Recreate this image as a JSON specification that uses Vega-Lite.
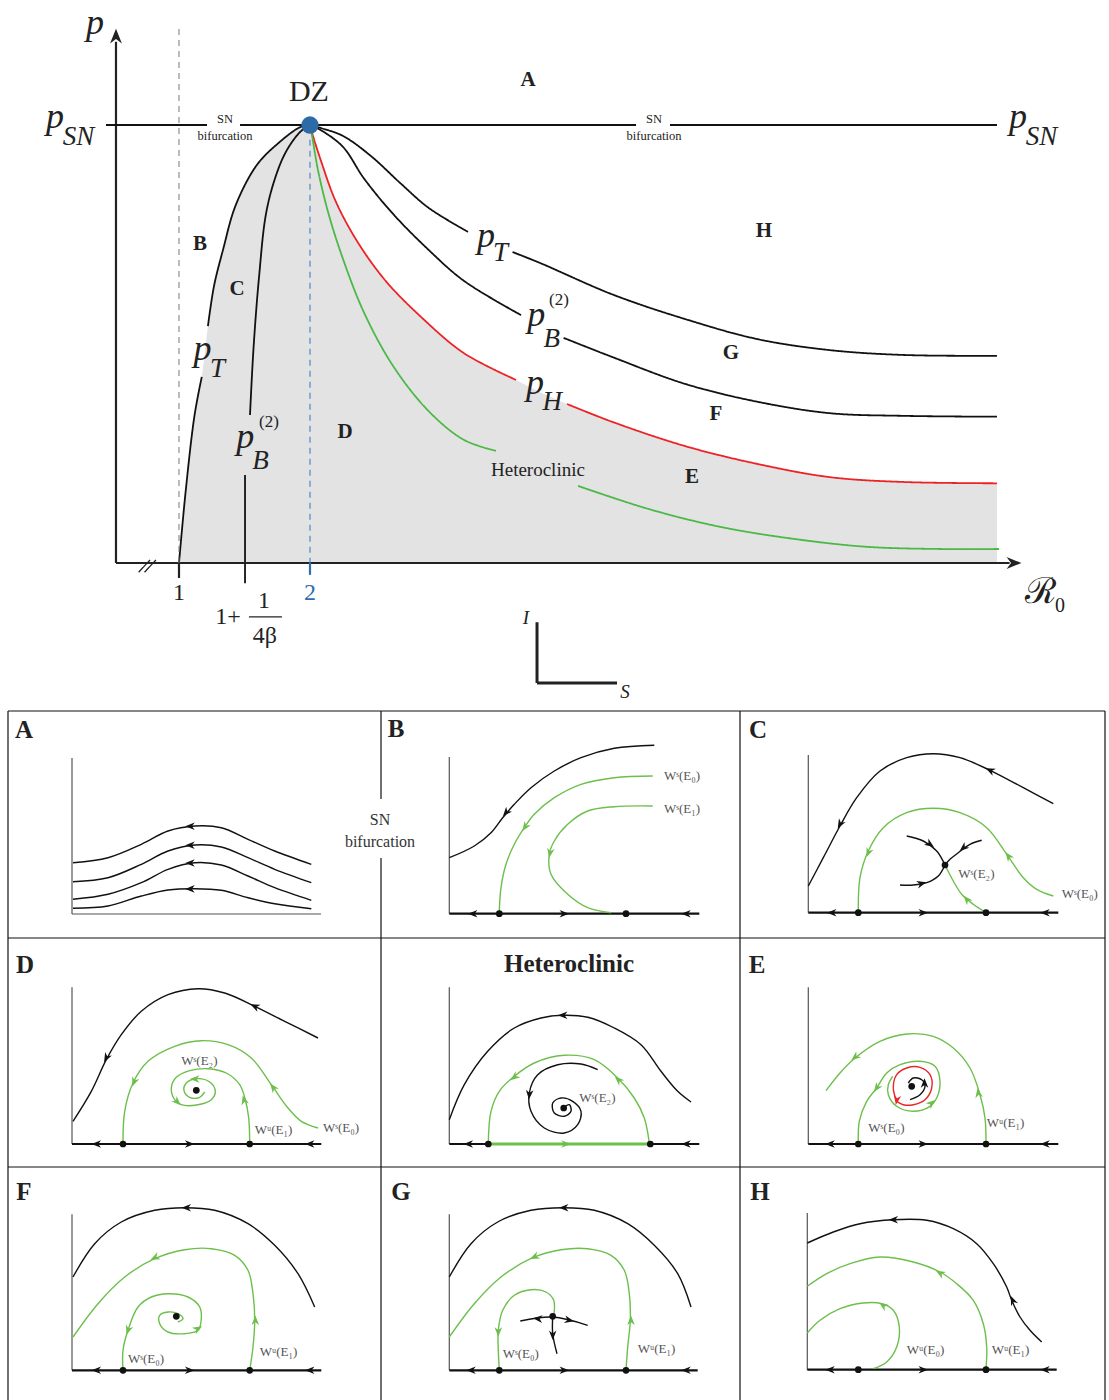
{
"$schema":"https://vega.github.io/schema/vega-lite/v6.json",
"padding":{"left":5,"top":0,"right":4,"bottom":0},
"background":"white",
"config":{"view":{"stroke":null},"font":"Liberation Serif"},
"spacing":0,
"bounds":"flush",
"resolve":{"scale":{"color":"independent","size":"independent","strokeWidth":"independent","strokeDash":"independent","angle":"independent"}},
"datasets":{
"tArea":[
{"part":"L","R0":1.0,"p":0},{"part":"L","R0":1.051,"p":0.164},{"part":"L","R0":1.119,"p":0.338},{"part":"L","R0":1.174,"p":0.425},{"part":"L","R0":1.221,"p":0.541},{"part":"L","R0":1.267,"p":0.632},{"part":"L","R0":1.336,"p":0.715},{"part":"L","R0":1.433,"p":0.817},{"part":"L","R0":1.595,"p":0.909},{"part":"L","R0":1.760,"p":0.959},{"part":"L","R0":1.924,"p":0.995},{"part":"L","R0":2.0,"p":1.0},
{"part":"R","R0":2.0,"p":1.0},{"part":"R","R0":2.019,"p":0.979},{"part":"R","R0":2.084,"p":0.918},{"part":"R","R0":2.196,"p":0.826},{"part":"R","R0":2.359,"p":0.735},{"part":"R","R0":2.578,"p":0.644},{"part":"R","R0":2.847,"p":0.562},{"part":"R","R0":3.176,"p":0.479},{"part":"R","R0":3.573,"p":0.418},{"part":"R","R0":3.756,"p":0.390},{"part":"R","R0":3.962,"p":0.363},{"part":"R","R0":4.310,"p":0.322},{"part":"R","R0":4.863,"p":0.267},{"part":"R","R0":5.418,"p":0.226},{"part":"R","R0":5.969,"p":0.196},{"part":"R","R0":6.527,"p":0.185},{"part":"R","R0":7.244,"p":0.182}
],
"tLines":[
{"kind":"pT","seg":"pTL1","R0":1.0,"p":0},{"kind":"pT","seg":"pTL1","R0":1.051,"p":0.164},{"kind":"pT","seg":"pTL1","R0":1.119,"p":0.338},{"kind":"pT","seg":"pTL1","R0":1.174,"p":0.425},
{"kind":"pT","seg":"pTL2","R0":1.221,"p":0.541},{"kind":"pT","seg":"pTL2","R0":1.267,"p":0.632},{"kind":"pT","seg":"pTL2","R0":1.336,"p":0.715},{"kind":"pT","seg":"pTL2","R0":1.433,"p":0.817},{"kind":"pT","seg":"pTL2","R0":1.595,"p":0.909},{"kind":"pT","seg":"pTL2","R0":1.760,"p":0.959},{"kind":"pT","seg":"pTL2","R0":1.924,"p":0.995},{"kind":"pT","seg":"pTL2","R0":2.0,"p":1.0},
{"kind":"pB2","seg":"pBL1","R0":1.504,"p":-0.046},{"kind":"pB2","seg":"pBL1","R0":1.504,"p":0.201},
{"kind":"pB2","seg":"pBL2","R0":1.542,"p":0.338},{"kind":"pB2","seg":"pBL2","R0":1.569,"p":0.491},{"kind":"pB2","seg":"pBL2","R0":1.611,"p":0.653},{"kind":"pB2","seg":"pBL2","R0":1.664,"p":0.797},{"kind":"pB2","seg":"pBL2","R0":1.733,"p":0.878},{"kind":"pB2","seg":"pBL2","R0":1.815,"p":0.938},{"kind":"pB2","seg":"pBL2","R0":1.924,"p":0.984},{"kind":"pB2","seg":"pBL2","R0":2.0,"p":1.0},
{"kind":"pT","seg":"pTR1","R0":2.0,"p":1.0},{"kind":"pT","seg":"pTR1","R0":2.084,"p":0.993},{"kind":"pT","seg":"pTR1","R0":2.252,"p":0.975},{"kind":"pT","seg":"pTR1","R0":2.466,"p":0.929},{"kind":"pT","seg":"pTR1","R0":2.687,"p":0.868},{"kind":"pT","seg":"pTR1","R0":2.905,"p":0.811},{"kind":"pT","seg":"pTR1","R0":3.206,"p":0.756},
{"kind":"pT","seg":"pTR2","R0":3.546,"p":0.710},{"kind":"pT","seg":"pTR2","R0":3.756,"p":0.685},{"kind":"pT","seg":"pTR2","R0":4.310,"p":0.613},{"kind":"pT","seg":"pTR2","R0":4.863,"p":0.557},{"kind":"pT","seg":"pTR2","R0":5.418,"p":0.511},{"kind":"pT","seg":"pTR2","R0":5.969,"p":0.486},{"kind":"pT","seg":"pTR2","R0":6.527,"p":0.475},{"kind":"pT","seg":"pTR2","R0":7.244,"p":0.473},
{"kind":"pB2","seg":"pBR1","R0":2.0,"p":1.0},{"kind":"pB2","seg":"pBR1","R0":2.084,"p":0.988},{"kind":"pB2","seg":"pBR1","R0":2.252,"p":0.950},{"kind":"pB2","seg":"pBR1","R0":2.412,"p":0.878},{"kind":"pB2","seg":"pBR1","R0":2.634,"p":0.797},{"kind":"pB2","seg":"pBR1","R0":2.905,"p":0.715},{"kind":"pB2","seg":"pBR1","R0":3.176,"p":0.644},{"kind":"pB2","seg":"pBR1","R0":3.611,"p":0.566},
{"kind":"pB2","seg":"pBR2","R0":3.936,"p":0.514},{"kind":"pB2","seg":"pBR2","R0":4.310,"p":0.470},{"kind":"pB2","seg":"pBR2","R0":4.863,"p":0.409},{"kind":"pB2","seg":"pBR2","R0":5.418,"p":0.368},{"kind":"pB2","seg":"pBR2","R0":5.969,"p":0.342},{"kind":"pB2","seg":"pBR2","R0":6.527,"p":0.336},{"kind":"pB2","seg":"pBR2","R0":7.244,"p":0.334},
{"kind":"pH","seg":"pH1","R0":2.0,"p":1.0},{"kind":"pH","seg":"pH1","R0":2.019,"p":0.979},{"kind":"pH","seg":"pH1","R0":2.084,"p":0.918},{"kind":"pH","seg":"pH1","R0":2.196,"p":0.826},{"kind":"pH","seg":"pH1","R0":2.359,"p":0.735},{"kind":"pH","seg":"pH1","R0":2.578,"p":0.644},{"kind":"pH","seg":"pH1","R0":2.847,"p":0.562},{"kind":"pH","seg":"pH1","R0":3.176,"p":0.479},{"kind":"pH","seg":"pH1","R0":3.573,"p":0.418},
{"kind":"pH","seg":"pH2","R0":3.962,"p":0.363},{"kind":"pH","seg":"pH2","R0":4.310,"p":0.322},{"kind":"pH","seg":"pH2","R0":4.863,"p":0.267},{"kind":"pH","seg":"pH2","R0":5.418,"p":0.226},{"kind":"pH","seg":"pH2","R0":5.969,"p":0.196},{"kind":"pH","seg":"pH2","R0":6.527,"p":0.185},{"kind":"pH","seg":"pH2","R0":7.244,"p":0.182},
{"kind":"het","seg":"h1","R0":2.0,"p":1.0},{"kind":"het","seg":"h1","R0":2.019,"p":0.970},{"kind":"het","seg":"h1","R0":2.061,"p":0.897},{"kind":"het","seg":"h1","R0":2.142,"p":0.797},{"kind":"het","seg":"h1","R0":2.252,"p":0.694},{"kind":"het","seg":"h1","R0":2.412,"p":0.572},{"kind":"het","seg":"h1","R0":2.634,"p":0.450},{"kind":"het","seg":"h1","R0":2.905,"p":0.347},{"kind":"het","seg":"h1","R0":3.176,"p":0.281},{"kind":"het","seg":"h1","R0":3.420,"p":0.256},
{"kind":"het","seg":"h2","R0":4.046,"p":0.176},{"kind":"het","seg":"h2","R0":4.588,"p":0.123},{"kind":"het","seg":"h2","R0":5.140,"p":0.082},{"kind":"het","seg":"h2","R0":5.695,"p":0.055},{"kind":"het","seg":"h2","R0":6.249,"p":0.037},{"kind":"het","seg":"h2","R0":6.802,"p":0.032},{"kind":"het","seg":"h2","R0":7.260,"p":0.032},
{"kind":"axis","seg":"ay","R0":0.519,"p":0},{"kind":"axis","seg":"ay","R0":0.519,"p":1.19},
{"kind":"axis","seg":"ax","R0":0.519,"p":0},{"kind":"axis","seg":"ax","R0":7.34,"p":0},
{"kind":"psn","seg":"s1","R0":0.443,"p":1.0},{"kind":"psn","seg":"s1","R0":1.214,"p":1.0},
{"kind":"psn","seg":"s2","R0":1.466,"p":1.0},{"kind":"psn","seg":"s2","R0":4.489,"p":1.0},
{"kind":"psn","seg":"s3","R0":4.748,"p":1.0},{"kind":"psn","seg":"s3","R0":7.244,"p":1.0},
{"kind":"ref1","seg":"r1","R0":1.0,"p":0},{"kind":"ref1","seg":"r1","R0":1.0,"p":1.228},
{"kind":"ref2","seg":"r2","R0":2.0,"p":-0.027},{"kind":"ref2","seg":"r2","R0":2.0,"p":0.977},
{"kind":"tick","seg":"t1","R0":1.0,"p":0},{"kind":"tick","seg":"t1","R0":1.0,"p":-0.034},
{"kind":"tick2","seg":"t2","R0":2.0,"p":0},{"kind":"tick2","seg":"t2","R0":2.0,"p":-0.027},
{"kind":"brk","seg":"k1","R0":0.692,"p":-0.021},{"kind":"brk","seg":"k1","R0":0.779,"p":0.007},
{"kind":"brk","seg":"k2","R0":0.737,"p":-0.021},{"kind":"brk","seg":"k2","R0":0.824,"p":0.007},
{"kind":"frac","seg":"f1","R0":1.534,"p":-0.123},{"kind":"frac","seg":"f1","R0":1.786,"p":-0.123},
{"kind":"icon","seg":"i1","R0":3.733,"p":-0.135},{"kind":"icon","seg":"i1","R0":3.733,"p":-0.274},
{"kind":"icon","seg":"i2","R0":3.733,"p":-0.274},{"kind":"icon","seg":"i2","R0":4.344,"p":-0.274}
],
"tArrows":[{"R0":0.519,"p":1.203,"a":270},{"R0":7.374,"p":0,"a":0}],
"tDot":[{"R0":2.0,"p":1.0}],
"tText":[
{"txt":"p","R0":0.359,"p":1.232,"role":"pm"},
{"txt":"p","R0":0.053,"p":1.018,"role":"pm"},{"txt":"SN","R0":0.232,"p":0.973,"role":"ps"},
{"txt":"p","R0":7.405,"p":1.018,"role":"pm"},{"txt":"SN","R0":7.584,"p":0.973,"role":"ps"},
{"txt":"p","R0":1.180,"p":0.488,"role":"pm"},{"txt":"T","R0":1.295,"p":0.443,"role":"ps"},
{"txt":"p","R0":1.505,"p":0.287,"role":"pm"},{"txt":"(2)","R0":1.687,"p":0.323,"role":"sup"},{"txt":"B","R0":1.622,"p":0.233,"role":"ps"},
{"txt":"p","R0":3.344,"p":0.747,"role":"pm"},{"txt":"T","R0":3.455,"p":0.708,"role":"ps"},
{"txt":"p","R0":3.727,"p":0.566,"role":"pm"},{"txt":"(2)","R0":3.900,"p":0.600,"role":"sup"},{"txt":"B","R0":3.845,"p":0.511,"role":"ps"},
{"txt":"p","R0":3.718,"p":0.411,"role":"pm"},{"txt":"H","R0":3.850,"p":0.367,"role":"ps"},
{"txt":"DZ","R0":1.992,"p":1.075,"role":"dz"},
{"txt":"SN","R0":1.351,"p":1.014,"role":"note"},{"txt":"bifurcation","R0":1.351,"p":0.975,"role":"note"},
{"txt":"SN","R0":4.626,"p":1.014,"role":"note"},{"txt":"bifurcation","R0":4.626,"p":0.975,"role":"note"},
{"txt":"1","R0":1.0,"p":-0.068,"role":"tk"},{"txt":"2","R0":2.0,"p":-0.068,"role":"tk"},
{"txt":"1+","R0":1.374,"p":-0.123,"role":"tk"},{"txt":"1","R0":1.649,"p":-0.087,"role":"tk"},{"txt":"4β","R0":1.656,"p":-0.167,"role":"tk"},
{"txt":"Heteroclinic","R0":3.740,"p":0.212,"role":"het"},
{"txt":"ℛ","R0":7.573,"p":-0.066,"role":"rs"},{"txt":"0","R0":7.725,"p":-0.098,"role":"r0"},
{"txt":"I","R0":3.649,"p":-0.126,"role":"ic"},{"txt":"S","R0":4.405,"p":-0.295,"role":"ic"},
{"txt":"A","R0":3.664,"p":1.103,"role":"reg"},{"txt":"B","R0":1.160,"p":0.728,"role":"reg"},{"txt":"C","R0":1.443,"p":0.626,"role":"reg"},{"txt":"D","R0":2.267,"p":0.299,"role":"reg"},{"txt":"E","R0":4.916,"p":0.196,"role":"reg"},{"txt":"F","R0":5.099,"p":0.340,"role":"reg"},{"txt":"G","R0":5.214,"p":0.479,"role":"reg"},{"txt":"H","R0":5.466,"p":0.758,"role":"reg"}
],
"pA":[
{"t":"L","id":"b1","k":"bd","x":8,"y":711},{"t":"L","id":"b1","k":"bd","x":8,"y":938},
{"t":"L","id":"b2","k":"bd","x":8,"y":711},{"t":"L","id":"b2","k":"bd","x":381,"y":711},
{"t":"L","id":"a1","k":"ax","x":72,"y":758},{"t":"L","id":"a1","k":"ax","x":72,"y":914},
{"t":"L","id":"a2","k":"ax","x":72,"y":914},{"t":"L","id":"a2","k":"ax","x":321,"y":914},
{"t":"L","id":"c1","k":"or","x":73,"y":862.7},{"t":"L","id":"c1","k":"or","x":108,"y":857.7},{"t":"L","id":"c1","k":"or","x":141.3,"y":844.3},{"t":"L","id":"c1","k":"or","x":168,"y":831},{"t":"L","id":"c1","k":"or","x":194.7,"y":826},{"t":"L","id":"c1","k":"or","x":221.3,"y":827.7},{"t":"L","id":"c1","k":"or","x":248,"y":839.3},{"t":"L","id":"c1","k":"or","x":274.7,"y":851},{"t":"L","id":"c1","k":"or","x":311.3,"y":864.3},
{"t":"L","id":"c2","k":"or","x":73,"y":881.7},{"t":"L","id":"c2","k":"or","x":108,"y":877.7},{"t":"L","id":"c2","k":"or","x":141.3,"y":864.3},{"t":"L","id":"c2","k":"or","x":168,"y":851},{"t":"L","id":"c2","k":"or","x":194.7,"y":845},{"t":"L","id":"c2","k":"or","x":221.3,"y":847},{"t":"L","id":"c2","k":"or","x":248,"y":857.7},{"t":"L","id":"c2","k":"or","x":274.7,"y":869.3},{"t":"L","id":"c2","k":"or","x":311.3,"y":882.7},
{"t":"L","id":"c3","k":"or","x":73,"y":899.3},{"t":"L","id":"c3","k":"or","x":108,"y":894.3},{"t":"L","id":"c3","k":"or","x":141.3,"y":882.7},{"t":"L","id":"c3","k":"or","x":168,"y":869.3},{"t":"L","id":"c3","k":"or","x":194.7,"y":862.7},{"t":"L","id":"c3","k":"or","x":221.3,"y":865},{"t":"L","id":"c3","k":"or","x":248,"y":876},{"t":"L","id":"c3","k":"or","x":274.7,"y":887.7},{"t":"L","id":"c3","k":"or","x":311.3,"y":900.3},
{"t":"L","id":"c4","k":"or","x":73,"y":908.3},{"t":"L","id":"c4","k":"or","x":108,"y":906},{"t":"L","id":"c4","k":"or","x":141.3,"y":896},{"t":"L","id":"c4","k":"or","x":168,"y":890},{"t":"L","id":"c4","k":"or","x":194.7,"y":888.7},{"t":"L","id":"c4","k":"or","x":221.3,"y":890.3},{"t":"L","id":"c4","k":"or","x":248,"y":897.7},{"t":"L","id":"c4","k":"or","x":274.7,"y":903.7},{"t":"L","id":"c4","k":"or","x":311.3,"y":908.7},
{"t":"A","k":"or","x":190,"y":826.3,"a":180},{"t":"A","k":"or","x":190,"y":845.3,"a":180},{"t":"A","k":"or","x":190,"y":863,"a":180},{"t":"A","k":"or","x":190,"y":888.9,"a":180},
{"t":"H","s":"A","x":24,"y":730},
{"t":"N","s":"SN","x":380,"y":820},{"t":"N","s":"bifurcation","x":380,"y":842}
],
"pB":[
{"t":"L","id":"b1","k":"bd","x":381,"y":711},{"t":"L","id":"b1","k":"bd","x":381,"y":799},
{"t":"L","id":"b2","k":"bd","x":381,"y":858},{"t":"L","id":"b2","k":"bd","x":381,"y":938},
{"t":"L","id":"b3","k":"bd","x":381,"y":711},{"t":"L","id":"b3","k":"bd","x":740,"y":711},
{"t":"L","id":"a1","k":"ax","x":449.3,"y":757},{"t":"L","id":"a1","k":"ax","x":449.3,"y":913.7},
{"t":"L","id":"a2","k":"sa","x":449.3,"y":913.7},{"t":"L","id":"a2","k":"sa","x":699.3,"y":913.7},
{"t":"L","id":"o","k":"or","x":449.3,"y":857.7},{"t":"L","id":"o","k":"or","x":474.3,"y":846},{"t":"L","id":"o","k":"or","x":491,"y":832.7},{"t":"L","id":"o","k":"or","x":502.7,"y":817.7},{"t":"L","id":"o","k":"or","x":514.3,"y":804.3},{"t":"L","id":"o","k":"or","x":531,"y":787.7},{"t":"L","id":"o","k":"or","x":554.3,"y":771},{"t":"L","id":"o","k":"or","x":581,"y":757.7},{"t":"L","id":"o","k":"or","x":614.3,"y":748.3},{"t":"L","id":"o","k":"or","x":654.3,"y":745.3},
{"t":"L","id":"m1","k":"mf","x":652.7,"y":776},{"t":"L","id":"m1","k":"mf","x":614.3,"y":777.7},{"t":"L","id":"m1","k":"mf","x":581,"y":784.3},{"t":"L","id":"m1","k":"mf","x":554.3,"y":797.7},{"t":"L","id":"m1","k":"mf","x":534.3,"y":814.3},{"t":"L","id":"m1","k":"mf","x":524.3,"y":827.7},{"t":"L","id":"m1","k":"mf","x":514.3,"y":844.3},{"t":"L","id":"m1","k":"mf","x":506,"y":864.3},{"t":"L","id":"m1","k":"mf","x":501,"y":887.7},{"t":"L","id":"m1","k":"mf","x":499.3,"y":911},
{"t":"L","id":"m2","k":"mf","x":652.7,"y":806},{"t":"L","id":"m2","k":"mf","x":614.3,"y":806.7},{"t":"L","id":"m2","k":"mf","x":587.7,"y":811},{"t":"L","id":"m2","k":"mf","x":567.7,"y":824.3},{"t":"L","id":"m2","k":"mf","x":554.3,"y":841},{"t":"L","id":"m2","k":"mf","x":549.3,"y":854.3},{"t":"L","id":"m2","k":"mf","x":551,"y":874.3},{"t":"L","id":"m2","k":"mf","x":567.7,"y":894.3},{"t":"L","id":"m2","k":"mf","x":587.7,"y":907.7},{"t":"L","id":"m2","k":"mf","x":611,"y":912.7},
{"t":"A","k":"or","x":506,"y":812.7,"a":130},{"t":"A","k":"mf","x":525,"y":827,"a":125},{"t":"A","k":"mf","x":550,"y":853,"a":100},
{"t":"A","k":"sa","x":472.7,"y":913.7,"a":180},{"t":"A","k":"sa","x":564.3,"y":913.7,"a":0},{"t":"A","k":"sa","x":686,"y":913.7,"a":180},
{"t":"D","x":499.3,"y":913.7},{"t":"D","x":626,"y":913.7},
{"t":"W","s":"Wˢ(E₀)","x":664,"y":776},{"t":"W","s":"Wˢ(E₁)","x":664,"y":809},
{"t":"H","s":"B","x":396,"y":729}
],
"pC":[
{"t":"L","id":"b1","k":"bd","x":740,"y":711},{"t":"L","id":"b1","k":"bd","x":740,"y":938},
{"t":"L","id":"b2","k":"bd","x":740,"y":711},{"t":"L","id":"b2","k":"bd","x":1105,"y":711},
{"t":"L","id":"b3","k":"bd","x":1105,"y":711},{"t":"L","id":"b3","k":"bd","x":1105,"y":938},
{"t":"L","id":"a1","k":"ax","x":808.3,"y":755},{"t":"L","id":"a1","k":"ax","x":808.3,"y":912.7},
{"t":"L","id":"a2","k":"sa","x":808.3,"y":912.7},{"t":"L","id":"a2","k":"sa","x":1058.3,"y":912.7},
{"t":"L","id":"o","k":"or","x":808.3,"y":886},{"t":"L","id":"o","k":"or","x":823.3,"y":857.7},{"t":"L","id":"o","k":"or","x":840,"y":826},{"t":"L","id":"o","k":"or","x":856.7,"y":797.7},{"t":"L","id":"o","k":"or","x":880,"y":771},{"t":"L","id":"o","k":"or","x":906.7,"y":757.7},{"t":"L","id":"o","k":"or","x":933.3,"y":753.7},{"t":"L","id":"o","k":"or","x":960,"y":757.7},{"t":"L","id":"o","k":"or","x":990,"y":770.3},{"t":"L","id":"o","k":"or","x":1023.3,"y":787.7},{"t":"L","id":"o","k":"or","x":1053.3,"y":803.7},
{"t":"L","id":"m1","k":"mf","x":858.3,"y":912.7},{"t":"L","id":"m1","k":"mf","x":860,"y":877.7},{"t":"L","id":"m1","k":"mf","x":868.3,"y":851},{"t":"L","id":"m1","k":"mf","x":883.3,"y":827.7},{"t":"L","id":"m1","k":"mf","x":906.7,"y":812.7},{"t":"L","id":"m1","k":"mf","x":933.3,"y":808.3},{"t":"L","id":"m1","k":"mf","x":960,"y":812.7},{"t":"L","id":"m1","k":"mf","x":986.7,"y":827.7},{"t":"L","id":"m1","k":"mf","x":1006.7,"y":854.3},{"t":"L","id":"m1","k":"mf","x":1023.3,"y":877.7},{"t":"L","id":"m1","k":"mf","x":1036.7,"y":889.3},{"t":"L","id":"m1","k":"mf","x":1053.3,"y":896},
{"t":"L","id":"s1","k":"or","x":906.7,"y":836},{"t":"L","id":"s1","k":"or","x":923.3,"y":841},{"t":"L","id":"s1","k":"or","x":936.7,"y":851},{"t":"L","id":"s1","k":"or","x":945,"y":865},
{"t":"L","id":"s2","k":"or","x":981.7,"y":840.3},{"t":"L","id":"s2","k":"or","x":970,"y":844.3},{"t":"L","id":"s2","k":"or","x":958.3,"y":852.7},{"t":"L","id":"s2","k":"or","x":950,"y":859.3},{"t":"L","id":"s2","k":"or","x":945,"y":865},
{"t":"L","id":"s3","k":"or","x":945,"y":865},{"t":"L","id":"s3","k":"or","x":938.3,"y":876},{"t":"L","id":"s3","k":"or","x":926.7,"y":882.7},{"t":"L","id":"s3","k":"or","x":913.3,"y":885},{"t":"L","id":"s3","k":"or","x":900,"y":885},
{"t":"L","id":"m2","k":"mf","x":945,"y":865},{"t":"L","id":"m2","k":"mf","x":953.3,"y":881},{"t":"L","id":"m2","k":"mf","x":961.7,"y":894.3},{"t":"L","id":"m2","k":"mf","x":973.3,"y":904.3},{"t":"L","id":"m2","k":"mf","x":986,"y":912.7},
{"t":"A","k":"or","x":840,"y":824.3,"a":119},{"t":"A","k":"or","x":990,"y":770.3,"a":205},
{"t":"A","k":"mf","x":868.3,"y":852.7,"a":112},{"t":"A","k":"mf","x":1008.3,"y":856,"a":234},
{"t":"A","k":"or","x":930,"y":844.3,"a":35},{"t":"A","k":"or","x":963.3,"y":848,"a":140},{"t":"A","k":"or","x":921.7,"y":883.5,"a":345},
{"t":"A","k":"mf","x":966.7,"y":899.3,"a":229},
{"t":"A","k":"sa","x":831.7,"y":912.7,"a":180},{"t":"A","k":"sa","x":923.3,"y":912.7,"a":0},{"t":"A","k":"sa","x":1045,"y":912.7,"a":180},
{"t":"D","x":858.3,"y":912.7},{"t":"D","x":986,"y":912.7},{"t":"D","x":945,"y":865},
{"t":"W","s":"Wˢ(E₂)","x":958.3,"y":874.3},{"t":"W","s":"Wˢ(E₀)","x":1061.7,"y":894.3},
{"t":"H","s":"C","x":758,"y":730}
],
"pD":[
{"t":"L","id":"b1","k":"bd","x":8,"y":938},{"t":"L","id":"b1","k":"bd","x":8,"y":1167},
{"t":"L","id":"b2","k":"bd","x":8,"y":938},{"t":"L","id":"b2","k":"bd","x":381,"y":938},
{"t":"L","id":"a1","k":"ax","x":72,"y":987.3},{"t":"L","id":"a1","k":"ax","x":72,"y":1144},
{"t":"L","id":"a2","k":"sa","x":72,"y":1144},{"t":"L","id":"a2","k":"sa","x":321.3,"y":1144},
{"t":"L","id":"o","k":"or","x":73,"y":1121.3},{"t":"L","id":"o","k":"or","x":91.3,"y":1091.3},{"t":"L","id":"o","k":"or","x":106.3,"y":1059.7},{"t":"L","id":"o","k":"or","x":121.3,"y":1034.7},{"t":"L","id":"o","k":"or","x":141.3,"y":1011.3},{"t":"L","id":"o","k":"or","x":168,"y":994.7},{"t":"L","id":"o","k":"or","x":198,"y":988.7},{"t":"L","id":"o","k":"or","x":224.7,"y":993},{"t":"L","id":"o","k":"or","x":254.7,"y":1006.3},{"t":"L","id":"o","k":"or","x":284.7,"y":1021.3},{"t":"L","id":"o","k":"or","x":318,"y":1038},
{"t":"L","id":"m1","k":"mf","x":123,"y":1143},{"t":"L","id":"m1","k":"mf","x":124.7,"y":1111.3},{"t":"L","id":"m1","k":"mf","x":133,"y":1083},{"t":"L","id":"m1","k":"mf","x":148,"y":1061.3},{"t":"L","id":"m1","k":"mf","x":174.7,"y":1046.3},{"t":"L","id":"m1","k":"mf","x":201.3,"y":1040.7},{"t":"L","id":"m1","k":"mf","x":228,"y":1044.7},{"t":"L","id":"m1","k":"mf","x":251.3,"y":1058},{"t":"L","id":"m1","k":"mf","x":271.3,"y":1084.7},{"t":"L","id":"m1","k":"mf","x":288,"y":1108},{"t":"L","id":"m1","k":"mf","x":301.3,"y":1121.3},{"t":"L","id":"m1","k":"mf","x":318,"y":1128},
{"t":"L","id":"m2","k":"mf","x":249.7,"y":1143},{"t":"L","id":"m2","k":"mf","x":248.7,"y":1118},{"t":"L","id":"m2","k":"mf","x":245.3,"y":1099.7},{"t":"L","id":"m2","k":"mf","x":239.7,"y":1084.7},{"t":"L","id":"m2","k":"mf","x":226.3,"y":1073},{"t":"L","id":"m2","k":"mf","x":208,"y":1068.7},{"t":"L","id":"m2","k":"mf","x":189.7,"y":1070.7},{"t":"L","id":"m2","k":"mf","x":176.3,"y":1077.3},{"t":"L","id":"m2","k":"mf","x":171.3,"y":1088},{"t":"L","id":"m2","k":"mf","x":174.7,"y":1099.7},{"t":"L","id":"m2","k":"mf","x":181.3,"y":1104.7},{"t":"L","id":"m2","k":"mf","x":198,"y":1104.7},{"t":"L","id":"m2","k":"mf","x":211.3,"y":1099.7},{"t":"L","id":"m2","k":"mf","x":215.3,"y":1091.3},{"t":"L","id":"m2","k":"mf","x":209.7,"y":1082},{"t":"L","id":"m2","k":"mf","x":196.3,"y":1078.7},{"t":"L","id":"m2","k":"mf","x":186.3,"y":1083},{"t":"L","id":"m2","k":"mf","x":184,"y":1090.7},{"t":"L","id":"m2","k":"mf","x":189.7,"y":1097.3},{"t":"L","id":"m2","k":"mf","x":199.7,"y":1097.3},{"t":"L","id":"m2","k":"mf","x":204.7,"y":1092},
{"t":"A","k":"or","x":106.3,"y":1058,"a":118},{"t":"A","k":"or","x":254.7,"y":1006.3,"a":205},
{"t":"A","k":"mf","x":134,"y":1082,"a":112},{"t":"A","k":"mf","x":273,"y":1087.3,"a":233},
{"t":"A","k":"mf","x":244,"y":1100,"a":255},{"t":"A","k":"mf","x":177.3,"y":1102,"a":45},{"t":"A","k":"mf","x":194.7,"y":1079,"a":180},
{"t":"A","k":"sa","x":96.3,"y":1144,"a":180},{"t":"A","k":"sa","x":189.7,"y":1144,"a":0},{"t":"A","k":"sa","x":309.7,"y":1144,"a":180},
{"t":"D","x":123,"y":1144},{"t":"D","x":249.7,"y":1144},{"t":"D","x":196.3,"y":1090.3},
{"t":"W","s":"Wˢ(E₂)","x":181.3,"y":1061.3},{"t":"W","s":"Wᵘ(E₁)","x":254.7,"y":1129.7},{"t":"W","s":"Wˢ(E₀)","x":323,"y":1128},
{"t":"H","s":"D","x":25,"y":965}
],
"pHet":[
{"t":"L","id":"b1","k":"bd","x":381,"y":938},{"t":"L","id":"b1","k":"bd","x":381,"y":1167},
{"t":"L","id":"b2","k":"bd","x":381,"y":938},{"t":"L","id":"b2","k":"bd","x":740,"y":938},
{"t":"L","id":"a1","k":"ax","x":449.3,"y":987.3},{"t":"L","id":"a1","k":"ax","x":449.3,"y":1144},
{"t":"L","id":"a2","k":"sa","x":449.3,"y":1144},{"t":"L","id":"a2","k":"sa","x":488.3,"y":1144},
{"t":"L","id":"a3","k":"sa","x":650.3,"y":1144},{"t":"L","id":"a3","k":"sa","x":699.3,"y":1144},
{"t":"L","id":"a4","k":"hc","x":488.3,"y":1144},{"t":"L","id":"a4","k":"hc","x":650.3,"y":1144},
{"t":"L","id":"o","k":"or","x":449.3,"y":1119.7},{"t":"L","id":"o","k":"or","x":464.3,"y":1084.7},{"t":"L","id":"o","k":"or","x":487.7,"y":1051.3},{"t":"L","id":"o","k":"or","x":514.3,"y":1028},{"t":"L","id":"o","k":"or","x":541,"y":1018},{"t":"L","id":"o","k":"or","x":562.7,"y":1015.3},{"t":"L","id":"o","k":"or","x":587.7,"y":1017.3},{"t":"L","id":"o","k":"or","x":614.3,"y":1028},{"t":"L","id":"o","k":"or","x":641,"y":1044.7},{"t":"L","id":"o","k":"or","x":661,"y":1071.3},{"t":"L","id":"o","k":"or","x":677.7,"y":1091.3},{"t":"L","id":"o","k":"or","x":691,"y":1102},
{"t":"L","id":"m1","k":"mf","x":488.3,"y":1143},{"t":"L","id":"m1","k":"mf","x":491,"y":1111.3},{"t":"L","id":"m1","k":"mf","x":499.3,"y":1091.3},{"t":"L","id":"m1","k":"mf","x":514.3,"y":1076.3},{"t":"L","id":"m1","k":"mf","x":534.3,"y":1063},{"t":"L","id":"m1","k":"mf","x":564.3,"y":1055.3},{"t":"L","id":"m1","k":"mf","x":594.3,"y":1059.7},{"t":"L","id":"m1","k":"mf","x":617.7,"y":1078},{"t":"L","id":"m1","k":"mf","x":634.3,"y":1098},{"t":"L","id":"m1","k":"mf","x":644.3,"y":1118},{"t":"L","id":"m1","k":"mf","x":649.3,"y":1143},
{"t":"L","id":"sp","k":"or","x":597.7,"y":1069.7},{"t":"L","id":"sp","k":"or","x":581,"y":1064},{"t":"L","id":"sp","k":"or","x":557.7,"y":1064.7},{"t":"L","id":"sp","k":"or","x":537.7,"y":1074.7},{"t":"L","id":"sp","k":"or","x":529.3,"y":1093},{"t":"L","id":"sp","k":"or","x":531,"y":1111.3},{"t":"L","id":"sp","k":"or","x":544.3,"y":1128},{"t":"L","id":"sp","k":"or","x":564.3,"y":1133},{"t":"L","id":"sp","k":"or","x":577.7,"y":1124.7},{"t":"L","id":"sp","k":"or","x":581,"y":1111.3},{"t":"L","id":"sp","k":"or","x":572.7,"y":1101.3},{"t":"L","id":"sp","k":"or","x":561,"y":1098},{"t":"L","id":"sp","k":"or","x":552.7,"y":1103},{"t":"L","id":"sp","k":"or","x":554.3,"y":1113},{"t":"L","id":"sp","k":"or","x":564.3,"y":1116.3},{"t":"L","id":"sp","k":"or","x":571,"y":1111.3},{"t":"L","id":"sp","k":"or","x":569.3,"y":1104.7},{"t":"L","id":"sp","k":"or","x":563.7,"y":1107.3},
{"t":"A","k":"or","x":562.7,"y":1015.3,"a":180},
{"t":"A","k":"mf","x":514.3,"y":1077.3,"a":141},{"t":"A","k":"mf","x":618.3,"y":1079.7,"a":223},
{"t":"A","k":"or","x":529.3,"y":1094.7,"a":95},
{"t":"A","k":"sa","x":468.3,"y":1144,"a":180},{"t":"A","k":"hc","x":566,"y":1144,"a":0},{"t":"A","k":"sa","x":686,"y":1144,"a":180},
{"t":"D","x":488.3,"y":1144},{"t":"D","x":650.3,"y":1144},{"t":"D","x":563.7,"y":1108},
{"t":"W","s":"Wˢ(E₂)","x":579.3,"y":1098},
{"t":"H","s":"Heteroclinic","x":569,"y":964}
],
"pE":[
{"t":"L","id":"b1","k":"bd","x":740,"y":938},{"t":"L","id":"b1","k":"bd","x":740,"y":1167},
{"t":"L","id":"b2","k":"bd","x":740,"y":938},{"t":"L","id":"b2","k":"bd","x":1105,"y":938},
{"t":"L","id":"b3","k":"bd","x":1105,"y":938},{"t":"L","id":"b3","k":"bd","x":1105,"y":1167},
{"t":"L","id":"a1","k":"ax","x":808.3,"y":987.3},{"t":"L","id":"a1","k":"ax","x":808.3,"y":1144},
{"t":"L","id":"a2","k":"sa","x":808.3,"y":1144},{"t":"L","id":"a2","k":"sa","x":1058.3,"y":1144},
{"t":"L","id":"m1","k":"mf","x":986,"y":1143},{"t":"L","id":"m1","k":"mf","x":985,"y":1118},{"t":"L","id":"m1","k":"mf","x":980,"y":1094.7},{"t":"L","id":"m1","k":"mf","x":970,"y":1068},{"t":"L","id":"m1","k":"mf","x":953.3,"y":1048},{"t":"L","id":"m1","k":"mf","x":933.3,"y":1036.3},{"t":"L","id":"m1","k":"mf","x":906.7,"y":1034},{"t":"L","id":"m1","k":"mf","x":880,"y":1041.3},{"t":"L","id":"m1","k":"mf","x":855,"y":1058},{"t":"L","id":"m1","k":"mf","x":840,"y":1073},{"t":"L","id":"m1","k":"mf","x":826,"y":1090.7},
{"t":"L","id":"m2","k":"mf","x":858.3,"y":1143},{"t":"L","id":"m2","k":"mf","x":859.3,"y":1121.3},{"t":"L","id":"m2","k":"mf","x":866.7,"y":1101.3},{"t":"L","id":"m2","k":"mf","x":876.7,"y":1088},{"t":"L","id":"m2","k":"mf","x":886.7,"y":1073},{"t":"L","id":"m2","k":"mf","x":900,"y":1064.7},{"t":"L","id":"m2","k":"mf","x":920,"y":1061.3},{"t":"L","id":"m2","k":"mf","x":935,"y":1066.3},{"t":"L","id":"m2","k":"mf","x":940,"y":1081.3},{"t":"L","id":"m2","k":"mf","x":936.7,"y":1098},{"t":"L","id":"m2","k":"mf","x":930,"y":1106.3},{"t":"L","id":"m2","k":"mf","x":913.3,"y":1111.3},{"t":"L","id":"m2","k":"mf","x":896.7,"y":1106.3},{"t":"L","id":"m2","k":"mf","x":888.3,"y":1094.7},{"t":"L","id":"m2","k":"mf","x":888.3,"y":1084.7},{"t":"L","id":"m2","k":"mf","x":892.7,"y":1076.3},
{"t":"L","id":"lc","k":"lc","x":896.7,"y":1101.3},{"t":"L","id":"lc","k":"lc","x":893.3,"y":1088},{"t":"L","id":"lc","k":"lc","x":896.7,"y":1074.7},{"t":"L","id":"lc","k":"lc","x":906.7,"y":1068},{"t":"L","id":"lc","k":"lc","x":920,"y":1067.3},{"t":"L","id":"lc","k":"lc","x":930,"y":1074.7},{"t":"L","id":"lc","k":"lc","x":931.7,"y":1088},{"t":"L","id":"lc","k":"lc","x":925,"y":1099.7},{"t":"L","id":"lc","k":"lc","x":913.3,"y":1104.7},{"t":"L","id":"lc","k":"lc","x":903.3,"y":1104.7},{"t":"L","id":"lc","k":"lc","x":896.7,"y":1101.3},
{"t":"L","id":"sp","k":"or","x":910,"y":1099.7},{"t":"L","id":"sp","k":"or","x":920,"y":1094.7},{"t":"L","id":"sp","k":"or","x":925,"y":1086.3},{"t":"L","id":"sp","k":"or","x":921.7,"y":1079.7},{"t":"L","id":"sp","k":"or","x":913.3,"y":1078},{"t":"L","id":"sp","k":"or","x":908.3,"y":1083},
{"t":"A","k":"mf","x":978.3,"y":1093,"a":260},{"t":"A","k":"mf","x":855,"y":1057.3,"a":141},
{"t":"A","k":"mf","x":876.7,"y":1088,"a":125},{"t":"A","k":"mf","x":931.7,"y":1103,"a":320},
{"t":"A","k":"lc","x":896.7,"y":1100,"a":100},{"t":"A","k":"or","x":924.5,"y":1083,"a":270},
{"t":"A","k":"sa","x":830,"y":1144,"a":180},{"t":"A","k":"sa","x":923.3,"y":1144,"a":0},{"t":"A","k":"sa","x":1045,"y":1144,"a":180},
{"t":"D","x":858.3,"y":1144},{"t":"D","x":986,"y":1144},{"t":"D","x":911.7,"y":1086.3},
{"t":"W","s":"Wˢ(E₀)","x":868.3,"y":1128},{"t":"W","s":"Wᵘ(E₁)","x":986.7,"y":1123},
{"t":"H","s":"E","x":757,"y":965}
],
"pF":[
{"t":"L","id":"b1","k":"bd","x":8,"y":1167},{"t":"L","id":"b1","k":"bd","x":8,"y":1400},
{"t":"L","id":"b2","k":"bd","x":8,"y":1167},{"t":"L","id":"b2","k":"bd","x":381,"y":1167},
{"t":"L","id":"a1","k":"ax","x":72,"y":1214.3},{"t":"L","id":"a1","k":"ax","x":72,"y":1370.3},
{"t":"L","id":"a2","k":"sa","x":72,"y":1370.3},{"t":"L","id":"a2","k":"sa","x":321.3,"y":1370.3},
{"t":"L","id":"o","k":"or","x":73,"y":1277},{"t":"L","id":"o","k":"or","x":94.7,"y":1243.7},{"t":"L","id":"o","k":"or","x":121.3,"y":1222},{"t":"L","id":"o","k":"or","x":154.7,"y":1210.3},{"t":"L","id":"o","k":"or","x":184.7,"y":1207.7},{"t":"L","id":"o","k":"or","x":214.7,"y":1210.3},{"t":"L","id":"o","k":"or","x":248,"y":1223.7},{"t":"L","id":"o","k":"or","x":274.7,"y":1245.3},{"t":"L","id":"o","k":"or","x":298,"y":1273.7},{"t":"L","id":"o","k":"or","x":314.7,"y":1307},
{"t":"L","id":"m1","k":"mf","x":249.7,"y":1370.3},{"t":"L","id":"m1","k":"mf","x":253,"y":1347},{"t":"L","id":"m1","k":"mf","x":254.7,"y":1320.3},{"t":"L","id":"m1","k":"mf","x":253,"y":1293.7},{"t":"L","id":"m1","k":"mf","x":248,"y":1270.3},{"t":"L","id":"m1","k":"mf","x":234.7,"y":1255.3},{"t":"L","id":"m1","k":"mf","x":211.3,"y":1248.7},{"t":"L","id":"m1","k":"mf","x":184.7,"y":1249.7},{"t":"L","id":"m1","k":"mf","x":154.7,"y":1258.7},{"t":"L","id":"m1","k":"mf","x":124.7,"y":1277},{"t":"L","id":"m1","k":"mf","x":98,"y":1303.7},{"t":"L","id":"m1","k":"mf","x":73,"y":1337},
{"t":"L","id":"m2","k":"mf","x":123,"y":1370.3},{"t":"L","id":"m2","k":"mf","x":123,"y":1350.3},{"t":"L","id":"m2","k":"mf","x":128,"y":1330.3},{"t":"L","id":"m2","k":"mf","x":138,"y":1307},{"t":"L","id":"m2","k":"mf","x":151.3,"y":1297},{"t":"L","id":"m2","k":"mf","x":168,"y":1293.7},{"t":"L","id":"m2","k":"mf","x":188,"y":1297},{"t":"L","id":"m2","k":"mf","x":199.7,"y":1307},{"t":"L","id":"m2","k":"mf","x":201.3,"y":1318.7},{"t":"L","id":"m2","k":"mf","x":198,"y":1330.3},{"t":"L","id":"m2","k":"mf","x":184.7,"y":1333.7},{"t":"L","id":"m2","k":"mf","x":168,"y":1332},{"t":"L","id":"m2","k":"mf","x":159.7,"y":1323.7},{"t":"L","id":"m2","k":"mf","x":159.7,"y":1315.3},{"t":"L","id":"m2","k":"mf","x":168,"y":1312},{"t":"L","id":"m2","k":"mf","x":178,"y":1313.7},{"t":"L","id":"m2","k":"mf","x":183,"y":1318.7},{"t":"L","id":"m2","k":"mf","x":178,"y":1322},
{"t":"A","k":"or","x":186.3,"y":1207.7,"a":180},
{"t":"A","k":"mf","x":255.3,"y":1320.3,"a":270},{"t":"A","k":"mf","x":154.7,"y":1257.7,"a":156},
{"t":"A","k":"mf","x":128,"y":1330.3,"a":109},{"t":"A","k":"mf","x":198,"y":1328.7,"a":330},
{"t":"A","k":"sa","x":96.3,"y":1370.3,"a":180},{"t":"A","k":"sa","x":189.7,"y":1370.3,"a":0},{"t":"A","k":"sa","x":309.7,"y":1370.3,"a":180},
{"t":"D","x":123,"y":1370.3},{"t":"D","x":249.7,"y":1370.3},{"t":"D","x":176.3,"y":1316.3},
{"t":"W","s":"Wˢ(E₀)","x":128,"y":1358.7},{"t":"W","s":"Wᵘ(E₁)","x":259.7,"y":1352},
{"t":"H","s":"F","x":24,"y":1192}
],
"pG":[
{"t":"L","id":"b1","k":"bd","x":381,"y":1167},{"t":"L","id":"b1","k":"bd","x":381,"y":1400},
{"t":"L","id":"b2","k":"bd","x":381,"y":1167},{"t":"L","id":"b2","k":"bd","x":740,"y":1167},
{"t":"L","id":"a1","k":"ax","x":449.3,"y":1214.3},{"t":"L","id":"a1","k":"ax","x":449.3,"y":1370.3},
{"t":"L","id":"a2","k":"sa","x":449.3,"y":1370.3},{"t":"L","id":"a2","k":"sa","x":697.7,"y":1370.3},
{"t":"L","id":"o","k":"or","x":449.3,"y":1277},{"t":"L","id":"o","k":"or","x":471,"y":1243.7},{"t":"L","id":"o","k":"or","x":497.7,"y":1222},{"t":"L","id":"o","k":"or","x":531,"y":1210.3},{"t":"L","id":"o","k":"or","x":563.7,"y":1207.7},{"t":"L","id":"o","k":"or","x":594.3,"y":1210.3},{"t":"L","id":"o","k":"or","x":627.7,"y":1223.7},{"t":"L","id":"o","k":"or","x":654.3,"y":1245.3},{"t":"L","id":"o","k":"or","x":677.7,"y":1273.7},{"t":"L","id":"o","k":"or","x":691,"y":1307},
{"t":"L","id":"m1","k":"mf","x":626,"y":1370.3},{"t":"L","id":"m1","k":"mf","x":627.7,"y":1347},{"t":"L","id":"m1","k":"mf","x":630.3,"y":1320.3},{"t":"L","id":"m1","k":"mf","x":629.3,"y":1293.7},{"t":"L","id":"m1","k":"mf","x":624.3,"y":1270.3},{"t":"L","id":"m1","k":"mf","x":611,"y":1255.3},{"t":"L","id":"m1","k":"mf","x":587.7,"y":1248.7},{"t":"L","id":"m1","k":"mf","x":561,"y":1249.7},{"t":"L","id":"m1","k":"mf","x":532.7,"y":1257.7},{"t":"L","id":"m1","k":"mf","x":501,"y":1277},{"t":"L","id":"m1","k":"mf","x":474.3,"y":1303.7},{"t":"L","id":"m1","k":"mf","x":449.3,"y":1337},
{"t":"L","id":"m2","k":"mf","x":553.7,"y":1316.3},{"t":"L","id":"m2","k":"mf","x":553.7,"y":1300.3},{"t":"L","id":"m2","k":"mf","x":546,"y":1292},{"t":"L","id":"m2","k":"mf","x":531,"y":1289.7},{"t":"L","id":"m2","k":"mf","x":514.3,"y":1295.3},{"t":"L","id":"m2","k":"mf","x":502.7,"y":1310.3},{"t":"L","id":"m2","k":"mf","x":498.3,"y":1330.3},{"t":"L","id":"m2","k":"mf","x":498.3,"y":1350.3},{"t":"L","id":"m2","k":"mf","x":499.3,"y":1370.3},
{"t":"L","id":"s1","k":"or","x":520.3,"y":1321},{"t":"L","id":"s1","k":"or","x":552.7,"y":1317},{"t":"L","id":"s1","k":"or","x":587.7,"y":1325.3},
{"t":"L","id":"s2","k":"or","x":552.7,"y":1317},{"t":"L","id":"s2","k":"or","x":552.7,"y":1333.7},{"t":"L","id":"s2","k":"or","x":557,"y":1353.7},
{"t":"A","k":"or","x":563.7,"y":1207.7,"a":180},
{"t":"A","k":"mf","x":631,"y":1320.3,"a":270},{"t":"A","k":"mf","x":534.3,"y":1257,"a":156},
{"t":"A","k":"mf","x":498.3,"y":1332,"a":90},
{"t":"A","k":"or","x":537.7,"y":1318.7,"a":185},{"t":"A","k":"or","x":569.3,"y":1320.3,"a":12},{"t":"A","k":"or","x":552.7,"y":1335.3,"a":90},
{"t":"A","k":"sa","x":471,"y":1370.3,"a":180},{"t":"A","k":"sa","x":564.3,"y":1370.3,"a":0},{"t":"A","k":"sa","x":686,"y":1370.3,"a":180},
{"t":"D","x":552.7,"y":1316.3},{"t":"D","x":499.3,"y":1370.3},{"t":"D","x":626,"y":1370.3},
{"t":"W","s":"Wˢ(E₀)","x":502.7,"y":1353.7},{"t":"W","s":"Wᵘ(E₁)","x":637.7,"y":1348.7},
{"t":"H","s":"G","x":401,"y":1192}
],
"pH":[
{"t":"L","id":"b1","k":"bd","x":740,"y":1167},{"t":"L","id":"b1","k":"bd","x":740,"y":1400},
{"t":"L","id":"b2","k":"bd","x":740,"y":1167},{"t":"L","id":"b2","k":"bd","x":1105,"y":1167},
{"t":"L","id":"b3","k":"bd","x":1105,"y":1167},{"t":"L","id":"b3","k":"bd","x":1105,"y":1400},
{"t":"L","id":"a1","k":"ax","x":807.3,"y":1213},{"t":"L","id":"a1","k":"ax","x":807.3,"y":1369.7},
{"t":"L","id":"a2","k":"sa","x":807.3,"y":1369.7},{"t":"L","id":"a2","k":"sa","x":1056.7,"y":1369.7},
{"t":"L","id":"o","k":"or","x":807.3,"y":1243},{"t":"L","id":"o","k":"or","x":833.3,"y":1232},{"t":"L","id":"o","k":"or","x":860,"y":1223.7},{"t":"L","id":"o","k":"or","x":893.3,"y":1219.7},{"t":"L","id":"o","k":"or","x":926.7,"y":1220.3},{"t":"L","id":"o","k":"or","x":953.3,"y":1228.7},{"t":"L","id":"o","k":"or","x":976.7,"y":1243.7},{"t":"L","id":"o","k":"or","x":993.3,"y":1263.7},{"t":"L","id":"o","k":"or","x":1006.7,"y":1287},{"t":"L","id":"o","k":"or","x":1011.7,"y":1300.3},{"t":"L","id":"o","k":"or","x":1020,"y":1317},{"t":"L","id":"o","k":"or","x":1030,"y":1330.3},{"t":"L","id":"o","k":"or","x":1041.7,"y":1342},
{"t":"L","id":"m1","k":"mf","x":986,"y":1368.7},{"t":"L","id":"m1","k":"mf","x":986.7,"y":1347},{"t":"L","id":"m1","k":"mf","x":983.3,"y":1323.7},{"t":"L","id":"m1","k":"mf","x":973.3,"y":1300.3},{"t":"L","id":"m1","k":"mf","x":956.7,"y":1283.7},{"t":"L","id":"m1","k":"mf","x":940,"y":1272},{"t":"L","id":"m1","k":"mf","x":913.3,"y":1262},{"t":"L","id":"m1","k":"mf","x":880,"y":1257},{"t":"L","id":"m1","k":"mf","x":850,"y":1263.7},{"t":"L","id":"m1","k":"mf","x":826.7,"y":1273.7},{"t":"L","id":"m1","k":"mf","x":807.3,"y":1286.3},
{"t":"L","id":"m2","k":"mf","x":873.3,"y":1368.7},{"t":"L","id":"m2","k":"mf","x":886.7,"y":1362},{"t":"L","id":"m2","k":"mf","x":896.7,"y":1347},{"t":"L","id":"m2","k":"mf","x":899.3,"y":1327},{"t":"L","id":"m2","k":"mf","x":893.3,"y":1310.3},{"t":"L","id":"m2","k":"mf","x":881.7,"y":1303.7},{"t":"L","id":"m2","k":"mf","x":863.3,"y":1303},{"t":"L","id":"m2","k":"mf","x":840,"y":1308.7},{"t":"L","id":"m2","k":"mf","x":820,"y":1320.3},{"t":"L","id":"m2","k":"mf","x":807.3,"y":1333},
{"t":"A","k":"or","x":893.3,"y":1219.7,"a":180},{"t":"A","k":"or","x":1012.7,"y":1300.3,"a":247},
{"t":"A","k":"mf","x":940,"y":1273,"a":210},{"t":"A","k":"mf","x":883,"y":1305.3,"a":215},
{"t":"A","k":"sa","x":830,"y":1369.7,"a":180},{"t":"A","k":"sa","x":923.3,"y":1369.7,"a":0},{"t":"A","k":"sa","x":1045,"y":1369.7,"a":180},
{"t":"D","x":858.3,"y":1369.7},{"t":"D","x":986,"y":1369.7},
{"t":"W","s":"Wᵘ(E₀)","x":906.7,"y":1349.7},{"t":"W","s":"Wᵘ(E₁)","x":991.7,"y":1350.3},
{"t":"H","s":"H","x":760,"y":1192}
]
},
"vconcat":[
{
"width":1097,"height":711,
"encoding":{
"x":{"field":"R0","type":"quantitative","axis":null,"scale":{"domain":[-0.3053,8.0687],"nice":false,"zero":false}},
"y":{"field":"p","type":"quantitative","axis":null,"scale":{"domain":[-0.3379,1.2854],"nice":false,"zero":false}}
},
"layer":[
{"data":{"name":"tArea"},"mark":{"type":"area","color":"#e3e3e3","interpolate":"catmull-rom","opacity":1},"encoding":{"detail":{"field":"part"},"y2":{"datum":0}}},
{"data":{"name":"tLines"},"mark":{"type":"line","interpolate":"catmull-rom"},"encoding":{
"detail":{"field":"seg"},"order":{"value":null},
"color":{"field":"kind","type":"nominal","legend":null,"scale":{"domain":["pT","pB2","pH","het","axis","psn","ref1","ref2","tick","tick2","brk","frac","icon"],"range":["#111111","#111111","#ec2227","#4cb848","#222222","#111111","#777777","#4f86c6","#222222","#2f6db0","#222222","#222222","#222222"]}},
"strokeWidth":{"condition":[{"test":"datum.kind==='axis'","value":2.2},{"test":"datum.kind==='ref1'","value":1},{"test":"datum.kind==='ref2'","value":1.2},{"test":"datum.kind==='tick'||datum.kind==='tick2'","value":2.2},{"test":"datum.kind==='brk'||datum.kind==='frac'","value":1.3},{"test":"datum.kind==='icon'","value":3}],"value":1.8},
"strokeDash":{"condition":{"test":"datum.kind==='ref1'||datum.kind==='ref2'","value":[6,5]},"value":[1,0]}
}},
{"data":{"name":"tArrows"},"mark":{"type":"point","shape":"M1,0L-1,-0.8L-0.4,0L-1,0.8Z","filled":true,"size":220,"color":"#222222","opacity":1},"encoding":{"angle":{"field":"a","type":"quantitative","scale":null}}},
{"data":{"name":"tDot"},"mark":{"type":"point","shape":"circle","filled":true,"size":300,"color":"#2c6aa8","opacity":1}},
{"data":{"name":"tText"},"transform":[{"filter":"datum.role==='pm'||datum.role==='ps'||datum.role==='ic'"}],"mark":{"type":"text","font":"Liberation Serif","fontStyle":"italic","align":"center","baseline":"middle","color":"#222222"},"encoding":{"text":{"field":"txt"},
"size":{"condition":[{"test":"datum.role==='pm'","value":36},{"test":"datum.role==='ps'","value":27}],"value":19}}},
{"data":{"name":"tText"},"transform":[{"filter":"datum.role==='sup'||datum.role==='tk'||datum.role==='dz'||datum.role==='het'||datum.role==='note'||datum.role==='rs'||datum.role==='r0'"}],"mark":{"type":"text","font":"Liberation Serif","align":"center","baseline":"middle"},"encoding":{"text":{"field":"txt"},
"color":{"condition":{"test":"datum.txt==='2'","value":"#2f6db0"},"value":"#222222"},
"size":{"condition":[{"test":"datum.role==='sup'","value":17},{"test":"datum.role==='tk'","value":24},{"test":"datum.role==='dz'","value":30},{"test":"datum.role==='het'","value":19},{"test":"datum.role==='note'","value":12.5},{"test":"datum.role==='rs'","value":36}],"value":20}}},
{"data":{"name":"tText"},"transform":[{"filter":"datum.role==='reg'"}],"mark":{"type":"text","font":"Liberation Serif","fontWeight":"bold","fontSize":21,"align":"center","baseline":"middle","color":"#222222"},"encoding":{"text":{"field":"txt"}}}
]
},
{
"columns":3,"spacing":0,"bounds":"flush","align":"each",
"concat":[
{"width":373,"height":227,"data":{"name":"pA"},
"encoding":{"x":{"field":"x","type":"quantitative","axis":null,"scale":{"domain":[8,381],"nice":false,"zero":false}},"y":{"field":"y","type":"quantitative","axis":null,"scale":{"domain":[711,938],"nice":false,"zero":false,"reverse":true}}},
"layer":[
{"transform":[{"filter":"datum.t==='L'"}],"mark":{"type":"line","interpolate":"catmull-rom"},"encoding":{"detail":{"field":"id"},"order":{"value":null},"color":{"field":"k","type":"nominal","legend":null,"scale":{"domain":["ax","sa","bd","or","mf","hc","lc"],"range":["#555555","#111111","#111111","#111111","#6dbf4b","#6dbf4b","#e8262a"]}},"strokeWidth":{"condition":[{"test":"datum.k==='sa'","value":2.2},{"test":"datum.k==='hc'","value":3},{"test":"datum.k==='ax'||datum.k==='bd'","value":1.2}],"value":1.4}}},
{"transform":[{"filter":"datum.t==='A'"}],"mark":{"type":"point","shape":"M1,0L-1,-0.8L-0.4,0L-1,0.8Z","filled":true,"size":90,"opacity":1},"encoding":{"angle":{"field":"a","type":"quantitative","scale":null},"color":{"field":"k","type":"nominal","legend":null,"scale":{"domain":["ax","sa","bd","or","mf","hc","lc"],"range":["#555555","#111111","#111111","#111111","#6dbf4b","#6dbf4b","#e8262a"]}}}},
{"transform":[{"filter":"datum.t==='H'"}],"mark":{"type":"text","font":"Liberation Serif","fontWeight":"bold","fontSize":25,"align":"center","baseline":"middle","color":"#222222"},"encoding":{"text":{"field":"s"}}},
{"transform":[{"filter":"datum.t==='N'"}],"mark":{"type":"text","font":"Liberation Serif","fontSize":16,"align":"center","baseline":"middle","color":"#333333"},"encoding":{"text":{"field":"s"}}}
]},
{"width":359,"height":227,"data":{"name":"pB"},
"encoding":{"x":{"field":"x","type":"quantitative","axis":null,"scale":{"domain":[381,740],"nice":false,"zero":false}},"y":{"field":"y","type":"quantitative","axis":null,"scale":{"domain":[711,938],"nice":false,"zero":false,"reverse":true}}},
"layer":[
{"transform":[{"filter":"datum.t==='L'"}],"mark":{"type":"line","interpolate":"catmull-rom"},"encoding":{"detail":{"field":"id"},"order":{"value":null},"color":{"field":"k","type":"nominal","legend":null,"scale":{"domain":["ax","sa","bd","or","mf","hc","lc"],"range":["#555555","#111111","#111111","#111111","#6dbf4b","#6dbf4b","#e8262a"]}},"strokeWidth":{"condition":[{"test":"datum.k==='sa'","value":2.2},{"test":"datum.k==='hc'","value":3},{"test":"datum.k==='ax'||datum.k==='bd'","value":1.2}],"value":1.4}}},
{"transform":[{"filter":"datum.t==='A'"}],"mark":{"type":"point","shape":"M1,0L-1,-0.8L-0.4,0L-1,0.8Z","filled":true,"size":90,"opacity":1},"encoding":{"angle":{"field":"a","type":"quantitative","scale":null},"color":{"field":"k","type":"nominal","legend":null,"scale":{"domain":["ax","sa","bd","or","mf","hc","lc"],"range":["#555555","#111111","#111111","#111111","#6dbf4b","#6dbf4b","#e8262a"]}}}},
{"transform":[{"filter":"datum.t==='D'"}],"mark":{"type":"point","shape":"circle","filled":true,"size":45,"color":"#111111","opacity":1}},
{"transform":[{"filter":"datum.t==='W'"}],"mark":{"type":"text","font":"Liberation Serif","fontSize":13,"align":"left","baseline":"middle","color":"#555555"},"encoding":{"text":{"field":"s"}}},
{"transform":[{"filter":"datum.t==='H'"}],"mark":{"type":"text","font":"Liberation Serif","fontWeight":"bold","fontSize":25,"align":"center","baseline":"middle","color":"#222222"},"encoding":{"text":{"field":"s"}}}
]},
{"width":365,"height":227,"data":{"name":"pC"},
"encoding":{"x":{"field":"x","type":"quantitative","axis":null,"scale":{"domain":[740,1105],"nice":false,"zero":false}},"y":{"field":"y","type":"quantitative","axis":null,"scale":{"domain":[711,938],"nice":false,"zero":false,"reverse":true}}},
"layer":[
{"transform":[{"filter":"datum.t==='L'"}],"mark":{"type":"line","interpolate":"catmull-rom"},"encoding":{"detail":{"field":"id"},"order":{"value":null},"color":{"field":"k","type":"nominal","legend":null,"scale":{"domain":["ax","sa","bd","or","mf","hc","lc"],"range":["#555555","#111111","#111111","#111111","#6dbf4b","#6dbf4b","#e8262a"]}},"strokeWidth":{"condition":[{"test":"datum.k==='sa'","value":2.2},{"test":"datum.k==='hc'","value":3},{"test":"datum.k==='ax'||datum.k==='bd'","value":1.2}],"value":1.4}}},
{"transform":[{"filter":"datum.t==='A'"}],"mark":{"type":"point","shape":"M1,0L-1,-0.8L-0.4,0L-1,0.8Z","filled":true,"size":90,"opacity":1},"encoding":{"angle":{"field":"a","type":"quantitative","scale":null},"color":{"field":"k","type":"nominal","legend":null,"scale":{"domain":["ax","sa","bd","or","mf","hc","lc"],"range":["#555555","#111111","#111111","#111111","#6dbf4b","#6dbf4b","#e8262a"]}}}},
{"transform":[{"filter":"datum.t==='D'"}],"mark":{"type":"point","shape":"circle","filled":true,"size":45,"color":"#111111","opacity":1}},
{"transform":[{"filter":"datum.t==='W'"}],"mark":{"type":"text","font":"Liberation Serif","fontSize":13,"align":"left","baseline":"middle","color":"#555555"},"encoding":{"text":{"field":"s"}}},
{"transform":[{"filter":"datum.t==='H'"}],"mark":{"type":"text","font":"Liberation Serif","fontWeight":"bold","fontSize":25,"align":"center","baseline":"middle","color":"#222222"},"encoding":{"text":{"field":"s"}}}
]},
{"width":373,"height":229,"data":{"name":"pD"},
"encoding":{"x":{"field":"x","type":"quantitative","axis":null,"scale":{"domain":[8,381],"nice":false,"zero":false}},"y":{"field":"y","type":"quantitative","axis":null,"scale":{"domain":[938,1167],"nice":false,"zero":false,"reverse":true}}},
"layer":[
{"transform":[{"filter":"datum.t==='L'"}],"mark":{"type":"line","interpolate":"catmull-rom"},"encoding":{"detail":{"field":"id"},"order":{"value":null},"color":{"field":"k","type":"nominal","legend":null,"scale":{"domain":["ax","sa","bd","or","mf","hc","lc"],"range":["#555555","#111111","#111111","#111111","#6dbf4b","#6dbf4b","#e8262a"]}},"strokeWidth":{"condition":[{"test":"datum.k==='sa'","value":2.2},{"test":"datum.k==='hc'","value":3},{"test":"datum.k==='ax'||datum.k==='bd'","value":1.2}],"value":1.4}}},
{"transform":[{"filter":"datum.t==='A'"}],"mark":{"type":"point","shape":"M1,0L-1,-0.8L-0.4,0L-1,0.8Z","filled":true,"size":90,"opacity":1},"encoding":{"angle":{"field":"a","type":"quantitative","scale":null},"color":{"field":"k","type":"nominal","legend":null,"scale":{"domain":["ax","sa","bd","or","mf","hc","lc"],"range":["#555555","#111111","#111111","#111111","#6dbf4b","#6dbf4b","#e8262a"]}}}},
{"transform":[{"filter":"datum.t==='D'"}],"mark":{"type":"point","shape":"circle","filled":true,"size":45,"color":"#111111","opacity":1}},
{"transform":[{"filter":"datum.t==='W'"}],"mark":{"type":"text","font":"Liberation Serif","fontSize":13,"align":"left","baseline":"middle","color":"#555555"},"encoding":{"text":{"field":"s"}}},
{"transform":[{"filter":"datum.t==='H'"}],"mark":{"type":"text","font":"Liberation Serif","fontWeight":"bold","fontSize":25,"align":"center","baseline":"middle","color":"#222222"},"encoding":{"text":{"field":"s"}}}
]},
{"width":359,"height":229,"data":{"name":"pHet"},
"encoding":{"x":{"field":"x","type":"quantitative","axis":null,"scale":{"domain":[381,740],"nice":false,"zero":false}},"y":{"field":"y","type":"quantitative","axis":null,"scale":{"domain":[938,1167],"nice":false,"zero":false,"reverse":true}}},
"layer":[
{"transform":[{"filter":"datum.t==='L'"}],"mark":{"type":"line","interpolate":"catmull-rom"},"encoding":{"detail":{"field":"id"},"order":{"value":null},"color":{"field":"k","type":"nominal","legend":null,"scale":{"domain":["ax","sa","bd","or","mf","hc","lc"],"range":["#555555","#111111","#111111","#111111","#6dbf4b","#6dbf4b","#e8262a"]}},"strokeWidth":{"condition":[{"test":"datum.k==='sa'","value":2.2},{"test":"datum.k==='hc'","value":3},{"test":"datum.k==='ax'||datum.k==='bd'","value":1.2}],"value":1.4}}},
{"transform":[{"filter":"datum.t==='A'"}],"mark":{"type":"point","shape":"M1,0L-1,-0.8L-0.4,0L-1,0.8Z","filled":true,"size":90,"opacity":1},"encoding":{"angle":{"field":"a","type":"quantitative","scale":null},"color":{"field":"k","type":"nominal","legend":null,"scale":{"domain":["ax","sa","bd","or","mf","hc","lc"],"range":["#555555","#111111","#111111","#111111","#6dbf4b","#6dbf4b","#e8262a"]}}}},
{"transform":[{"filter":"datum.t==='D'"}],"mark":{"type":"point","shape":"circle","filled":true,"size":45,"color":"#111111","opacity":1}},
{"transform":[{"filter":"datum.t==='W'"}],"mark":{"type":"text","font":"Liberation Serif","fontSize":13,"align":"left","baseline":"middle","color":"#555555"},"encoding":{"text":{"field":"s"}}},
{"transform":[{"filter":"datum.t==='H'"}],"mark":{"type":"text","font":"Liberation Serif","fontWeight":"bold","fontSize":25,"align":"center","baseline":"middle","color":"#222222"},"encoding":{"text":{"field":"s"}}}
]},
{"width":365,"height":229,"data":{"name":"pE"},
"encoding":{"x":{"field":"x","type":"quantitative","axis":null,"scale":{"domain":[740,1105],"nice":false,"zero":false}},"y":{"field":"y","type":"quantitative","axis":null,"scale":{"domain":[938,1167],"nice":false,"zero":false,"reverse":true}}},
"layer":[
{"transform":[{"filter":"datum.t==='L'"}],"mark":{"type":"line","interpolate":"catmull-rom"},"encoding":{"detail":{"field":"id"},"order":{"value":null},"color":{"field":"k","type":"nominal","legend":null,"scale":{"domain":["ax","sa","bd","or","mf","hc","lc"],"range":["#555555","#111111","#111111","#111111","#6dbf4b","#6dbf4b","#e8262a"]}},"strokeWidth":{"condition":[{"test":"datum.k==='sa'","value":2.2},{"test":"datum.k==='hc'","value":3},{"test":"datum.k==='ax'||datum.k==='bd'","value":1.2}],"value":1.4}}},
{"transform":[{"filter":"datum.t==='A'"}],"mark":{"type":"point","shape":"M1,0L-1,-0.8L-0.4,0L-1,0.8Z","filled":true,"size":90,"opacity":1},"encoding":{"angle":{"field":"a","type":"quantitative","scale":null},"color":{"field":"k","type":"nominal","legend":null,"scale":{"domain":["ax","sa","bd","or","mf","hc","lc"],"range":["#555555","#111111","#111111","#111111","#6dbf4b","#6dbf4b","#e8262a"]}}}},
{"transform":[{"filter":"datum.t==='D'"}],"mark":{"type":"point","shape":"circle","filled":true,"size":45,"color":"#111111","opacity":1}},
{"transform":[{"filter":"datum.t==='W'"}],"mark":{"type":"text","font":"Liberation Serif","fontSize":13,"align":"left","baseline":"middle","color":"#555555"},"encoding":{"text":{"field":"s"}}},
{"transform":[{"filter":"datum.t==='H'"}],"mark":{"type":"text","font":"Liberation Serif","fontWeight":"bold","fontSize":25,"align":"center","baseline":"middle","color":"#222222"},"encoding":{"text":{"field":"s"}}}
]},
{"width":373,"height":233,"data":{"name":"pF"},
"encoding":{"x":{"field":"x","type":"quantitative","axis":null,"scale":{"domain":[8,381],"nice":false,"zero":false}},"y":{"field":"y","type":"quantitative","axis":null,"scale":{"domain":[1167,1400],"nice":false,"zero":false,"reverse":true}}},
"layer":[
{"transform":[{"filter":"datum.t==='L'"}],"mark":{"type":"line","interpolate":"catmull-rom"},"encoding":{"detail":{"field":"id"},"order":{"value":null},"color":{"field":"k","type":"nominal","legend":null,"scale":{"domain":["ax","sa","bd","or","mf","hc","lc"],"range":["#555555","#111111","#111111","#111111","#6dbf4b","#6dbf4b","#e8262a"]}},"strokeWidth":{"condition":[{"test":"datum.k==='sa'","value":2.2},{"test":"datum.k==='hc'","value":3},{"test":"datum.k==='ax'||datum.k==='bd'","value":1.2}],"value":1.4}}},
{"transform":[{"filter":"datum.t==='A'"}],"mark":{"type":"point","shape":"M1,0L-1,-0.8L-0.4,0L-1,0.8Z","filled":true,"size":90,"opacity":1},"encoding":{"angle":{"field":"a","type":"quantitative","scale":null},"color":{"field":"k","type":"nominal","legend":null,"scale":{"domain":["ax","sa","bd","or","mf","hc","lc"],"range":["#555555","#111111","#111111","#111111","#6dbf4b","#6dbf4b","#e8262a"]}}}},
{"transform":[{"filter":"datum.t==='D'"}],"mark":{"type":"point","shape":"circle","filled":true,"size":45,"color":"#111111","opacity":1}},
{"transform":[{"filter":"datum.t==='W'"}],"mark":{"type":"text","font":"Liberation Serif","fontSize":13,"align":"left","baseline":"middle","color":"#555555"},"encoding":{"text":{"field":"s"}}},
{"transform":[{"filter":"datum.t==='H'"}],"mark":{"type":"text","font":"Liberation Serif","fontWeight":"bold","fontSize":25,"align":"center","baseline":"middle","color":"#222222"},"encoding":{"text":{"field":"s"}}}
]},
{"width":359,"height":233,"data":{"name":"pG"},
"encoding":{"x":{"field":"x","type":"quantitative","axis":null,"scale":{"domain":[381,740],"nice":false,"zero":false}},"y":{"field":"y","type":"quantitative","axis":null,"scale":{"domain":[1167,1400],"nice":false,"zero":false,"reverse":true}}},
"layer":[
{"transform":[{"filter":"datum.t==='L'"}],"mark":{"type":"line","interpolate":"catmull-rom"},"encoding":{"detail":{"field":"id"},"order":{"value":null},"color":{"field":"k","type":"nominal","legend":null,"scale":{"domain":["ax","sa","bd","or","mf","hc","lc"],"range":["#555555","#111111","#111111","#111111","#6dbf4b","#6dbf4b","#e8262a"]}},"strokeWidth":{"condition":[{"test":"datum.k==='sa'","value":2.2},{"test":"datum.k==='hc'","value":3},{"test":"datum.k==='ax'||datum.k==='bd'","value":1.2}],"value":1.4}}},
{"transform":[{"filter":"datum.t==='A'"}],"mark":{"type":"point","shape":"M1,0L-1,-0.8L-0.4,0L-1,0.8Z","filled":true,"size":90,"opacity":1},"encoding":{"angle":{"field":"a","type":"quantitative","scale":null},"color":{"field":"k","type":"nominal","legend":null,"scale":{"domain":["ax","sa","bd","or","mf","hc","lc"],"range":["#555555","#111111","#111111","#111111","#6dbf4b","#6dbf4b","#e8262a"]}}}},
{"transform":[{"filter":"datum.t==='D'"}],"mark":{"type":"point","shape":"circle","filled":true,"size":45,"color":"#111111","opacity":1}},
{"transform":[{"filter":"datum.t==='W'"}],"mark":{"type":"text","font":"Liberation Serif","fontSize":13,"align":"left","baseline":"middle","color":"#555555"},"encoding":{"text":{"field":"s"}}},
{"transform":[{"filter":"datum.t==='H'"}],"mark":{"type":"text","font":"Liberation Serif","fontWeight":"bold","fontSize":25,"align":"center","baseline":"middle","color":"#222222"},"encoding":{"text":{"field":"s"}}}
]},
{"width":365,"height":233,"data":{"name":"pH"},
"encoding":{"x":{"field":"x","type":"quantitative","axis":null,"scale":{"domain":[740,1105],"nice":false,"zero":false}},"y":{"field":"y","type":"quantitative","axis":null,"scale":{"domain":[1167,1400],"nice":false,"zero":false,"reverse":true}}},
"layer":[
{"transform":[{"filter":"datum.t==='L'"}],"mark":{"type":"line","interpolate":"catmull-rom"},"encoding":{"detail":{"field":"id"},"order":{"value":null},"color":{"field":"k","type":"nominal","legend":null,"scale":{"domain":["ax","sa","bd","or","mf","hc","lc"],"range":["#555555","#111111","#111111","#111111","#6dbf4b","#6dbf4b","#e8262a"]}},"strokeWidth":{"condition":[{"test":"datum.k==='sa'","value":2.2},{"test":"datum.k==='hc'","value":3},{"test":"datum.k==='ax'||datum.k==='bd'","value":1.2}],"value":1.4}}},
{"transform":[{"filter":"datum.t==='A'"}],"mark":{"type":"point","shape":"M1,0L-1,-0.8L-0.4,0L-1,0.8Z","filled":true,"size":90,"opacity":1},"encoding":{"angle":{"field":"a","type":"quantitative","scale":null},"color":{"field":"k","type":"nominal","legend":null,"scale":{"domain":["ax","sa","bd","or","mf","hc","lc"],"range":["#555555","#111111","#111111","#111111","#6dbf4b","#6dbf4b","#e8262a"]}}}},
{"transform":[{"filter":"datum.t==='D'"}],"mark":{"type":"point","shape":"circle","filled":true,"size":45,"color":"#111111","opacity":1}},
{"transform":[{"filter":"datum.t==='W'"}],"mark":{"type":"text","font":"Liberation Serif","fontSize":13,"align":"left","baseline":"middle","color":"#555555"},"encoding":{"text":{"field":"s"}}},
{"transform":[{"filter":"datum.t==='H'"}],"mark":{"type":"text","font":"Liberation Serif","fontWeight":"bold","fontSize":25,"align":"center","baseline":"middle","color":"#222222"},"encoding":{"text":{"field":"s"}}}
]}
]
}
]
}
